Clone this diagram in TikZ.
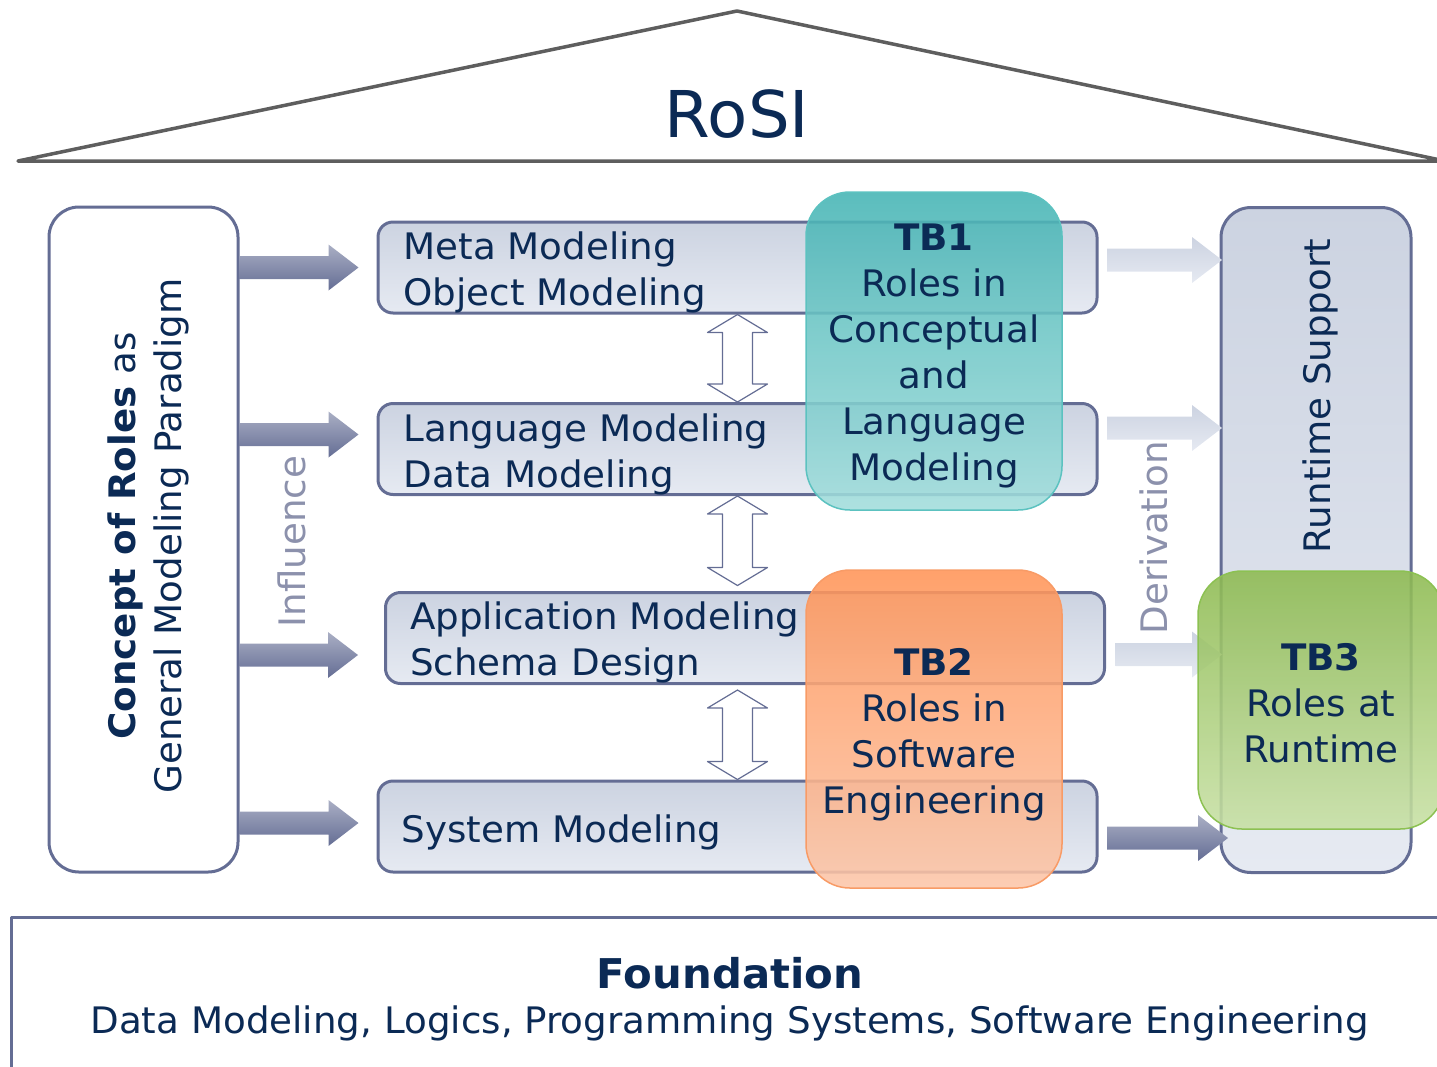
\documentclass[tikz,border=0pt]{standalone}
\usepackage{fontspec}
\setmainfont[FakeStretch=1.02]{DejaVu Sans}
\usetikzlibrary{calc,positioning}

\definecolor{ink}{HTML}{0B2A55}
\definecolor{frame}{HTML}{646D94}
\definecolor{roofline}{HTML}{5E5E5E}
\definecolor{paletop}{HTML}{CCD3E1}
\definecolor{palebot}{HTML}{E6EAF2}
\definecolor{hint}{HTML}{8C91AC}
\definecolor{tealtop}{HTML}{45B4B4}
\definecolor{tealbot}{HTML}{A2DDDC}
\definecolor{tealrim}{HTML}{5CC2C0}
\definecolor{orangetop}{HTML}{FF9457}
\definecolor{orangebot}{HTML}{FCC6A9}
\definecolor{orangerim}{HTML}{F89B66}
\definecolor{greentop}{HTML}{8DBA50}
\definecolor{greenbot}{HTML}{C7E0A4}
\definecolor{greenrim}{HTML}{8CC152}

% [style]{tail}{tip}{level}{tail gap}{tip gap}
\newcommand{\blockarrow}[6][]{%
  \coordinate (blevel) at (#4);
  \coordinate (btail) at ($(#2 |- blevel)+(#5,0)$);
  \coordinate (btip) at ($(#3 |- blevel)-(#6,0)$);
  \path[#1] ($(btail)+(0,-11.5)$) -- ($(btip)+(-30,-11.5)$) -- ($(btip)+(-30,-23)$) -- (btip)
    -- ($(btip)+(-30,23)$) -- ($(btip)+(-30,11.5)$) -- ($(btail)+(0,11.5)$) -- cycle;}
% {top}{bottom}
\newcommand{\twoway}[2]{%
  \path[both] let \p1=(#1), \p2=(#2) in
    (\x1,\y1) -- (\x1+30pt,\y1-18pt) -- (\x1+15pt,\y1-18pt) -- (\x1+15pt,\y2+18pt) -- (\x1+30pt,\y2+18pt)
    -- (\x1,\y2) -- (\x1-30pt,\y2+18pt) -- (\x1-15pt,\y2+18pt) -- (\x1-15pt,\y1-18pt) -- (\x1-30pt,\y1-18pt) -- cycle;}

\tikzset{
  layer/.style={draw=frame, line width=3pt, rounded corners=15pt, top color=paletop, bottom color=palebot,
    minimum width=719pt, minimum height=91pt, inner sep=0pt},
  pillar/.style={draw=frame, line width=3pt, rounded corners=30pt, minimum width=189pt, minimum height=665pt, inner sep=0pt},
  tb/.style={line width=1.5pt, rounded corners=44pt, fill opacity=0.88, inner sep=0pt},
  feed/.style={top color=frame!55, bottom color=frame},
  derive/.style={top color=paletop, bottom color=palebot},
  both/.style={draw=frame, line width=1.2pt, fill=white},
  label/.style={anchor=base west, align=left},
  tbtext/.style={anchor=base, align=center},
  turned/.style={rotate=90, anchor=base},
}

\begin{document}
\begin{tikzpicture}[x=1pt,y=-1pt,line join=round,text=ink,font=\fontsize{36.5}{46}\selectfont]
\useasboundingbox (0,0) rectangle (1437,1066);

% roof
\draw[roofline,line width=3.5pt] (18,161) -- (737,11) -- (1445,161) -- cycle;
\node[anchor=base,font=\fontsize{64.5}{70}\selectfont] (rosi) at (737,137) {RoSI};

% concept pillar
\node[pillar,fill=white] (concept) at (143.5,539.5) {};
\node[rotate=90,align=center] (concepttext) at (148,536) {\textbf{Concept of Roles} as\\General Modeling Paradigm};

% modeling layers (base = last line)
\node[layer] (meta) at (737.5,267.5) {};
\node[layer] (lang) at (737.5,449) {};
\node[layer] (app) at (745,638) {};
\node[layer] (sys) at (737.5,826.5) {};
\node[label] (metatext) at ([shift={(23.5,84.5)}]meta.north west) {Meta Modeling\\Object Modeling};
\node[label] (langtext) at ([shift={(23.5,85.5)}]lang.north west) {Language Modeling\\Data Modeling};
\node[label] (apptext) at ([shift={(22.5,84.5)}]app.north west) {Application Modeling\\Schema Design};
\node[label] (systext) at ([shift={(21.5,62.5)}]sys.north west) {System Modeling};

% influence
\blockarrow[feed]{concept.east}{meta.west}{meta.west}{0}{18}
\blockarrow[feed]{concept.east}{lang.west}{$(lang.west)+(0,-14.5)$}{0}{18}
\blockarrow[feed]{concept.east}{app.west}{$(app.west)+(0,17)$}{0}{26}
\blockarrow[feed]{concept.east}{sys.west}{$(sys.west)+(0,-3.5)$}{0}{18}
\node[turned,text=hint] (influence) at (305,541.5) {Influence};

\twoway{meta.south}{lang.north}
\twoway{lang.south}{$(app.north -| lang.south)+(0,-5.5)$}
\twoway{$(app.south -| lang.south)+(0,5)$}{sys.north}

% TB1 and TB2
\node[tb,draw=tealrim,top color=tealtop,bottom color=tealbot,minimum width=256pt,minimum height=318pt] (tb1) at (934,351) {};
\node[tbtext] (tb1text) at ($(tb1.north)+(0,289)$) {\textbf{TB1}\\Roles in\\Conceptual\\and\\Language\\Modeling};
\node[tb,draw=orangerim,top color=orangetop,bottom color=orangebot,minimum width=256pt,minimum height=318pt] (tb2) at (934,729) {};
\node[tbtext] (tb2text) at ($(tb2.north)+(0,244)$) {\textbf{TB2}\\Roles in\\Software\\Engineering};

% runtime pillar
\node[pillar,top color=paletop,bottom color=palebot,minimum width=190pt] (runtime) at (1316,540) {};
\node[turned] (runtimetext) at (1330,396) {Runtime Support};

% derivation
\blockarrow[derive]{meta.east}{runtime.west}{$(meta.east)+(0,-7.5)$}{8.5}{-2.5}
\blockarrow[derive]{lang.east}{runtime.west}{$(lang.east)+(0,-21)$}{8.5}{-2.5}
\blockarrow[derive]{app.east}{runtime.west}{$(app.east)+(0,16.5)$}{9.5}{-2.5}
\blockarrow[feed]{sys.east}{runtime.west}{$(sys.east)+(0,11.5)$}{8.5}{-8.5}
\node[turned,text=hint] (derivation) at (1167,537.5) {Derivation};

% TB3
\node[tb,draw=greenrim,top color=greentop,bottom color=greenbot,minimum width=246pt,minimum height=258pt] (tb3) at (1321,700) {};
\node[tbtext] (tb3text) at ($(tb3.north)+(0,192)$) {\textbf{TB3}\\Roles at\\Runtime};

% foundation
\draw[frame,line width=3pt] (11,1075) -- (11,917) -- (1445,917);
\node[anchor=base,font=\fontsize{41}{46}\selectfont\bfseries] (foundation) at (730,988) {Foundation};
\node[anchor=base] (fields) at (729.5,1033) {Data Modeling, Logics, Programming Systems, Software Engineering};
\end{tikzpicture}
\end{document}
